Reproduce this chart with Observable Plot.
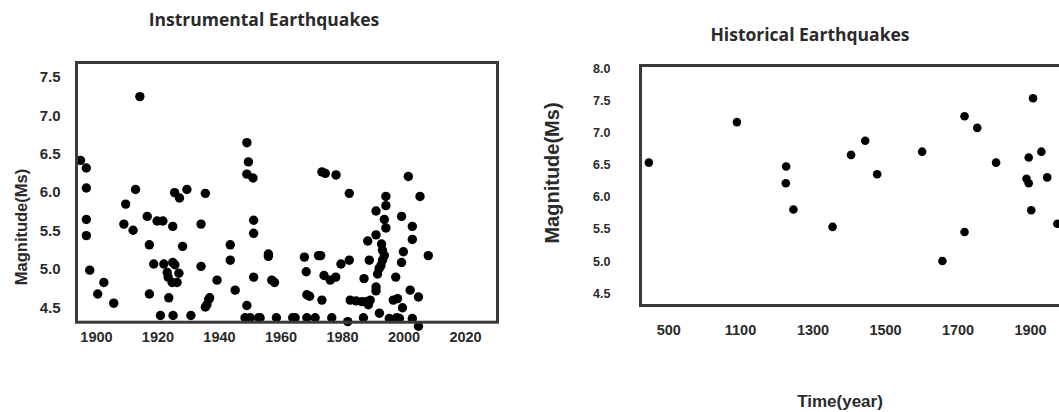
<!DOCTYPE html>
<html>
<head>
<meta charset="utf-8">
<script src="https://cdn.jsdelivr.net/npm/d3@7"></script>
<script src="https://cdn.jsdelivr.net/npm/@observablehq/plot@0.6"></script>
<style>
  html, body { margin: 0; padding: 0; background: #fff; }
  #wrap { position: relative; width: 1059px; height: 412px; overflow: hidden; background: #fff; }
  #wrap svg { position: absolute; top: 0; }
  .lbl { position: absolute; white-space: nowrap; line-height: 1; color: #2a2a2a; font-family: "Liberation Sans", Arial, sans-serif; font-weight: bold; }
  .title { font-family: "Open Sans", "Liberation Sans", sans-serif; font-weight: 700; }
</style>
</head>
<body>
<div id="wrap"></div>
<script>
// ---------- Instrumental earthquakes (year, magnitude Ms) ----------
const instYear = [
  1894.8, 1896.7, 1896.7, 1896.7, 1896.7, 1897.8, 1902.4, 1900.4, 1905.6,
  1914.1, 1912.7, 1909.5, 1908.9, 1911.9, 1916.5, 1919.7, 1921.6, 1924.8,
  1917.2, 1925.4, 1927.0, 1929.4, 1928.0, 1918.6, 1921.9, 1924.8, 1925.5,
  1923.0, 1923.3, 1924.6, 1926.2, 1926.8, 1917.2, 1923.5, 1920.8, 1924.9,
  1930.7, 1935.4, 1934.0, 1934.0, 1935.4, 1935.9, 1936.5, 1936.8, 1939.2,
  1943.5, 1943.5, 1945.1, 1948.9, 1949.4, 1948.9, 1950.9, 1951.1, 1951.1,
  1951.1, 1948.9, 1948.3, 1950.0, 1952.7,
  1955.9, 1955.9, 1957.0, 1957.9, 1953.2, 1958.5, 1963.8, 1964.6, 1968.4,
  1971.1, 1976.5, 1981.7, 1986.8, 1992.0, 1995.2, 1997.6, 1998.5, 2002.7,
  2004.7, 1967.6, 1972.2, 1972.9, 1968.2, 1968.4, 1969.3, 1973.3, 1974.0,
  1976.0, 1977.8, 1979.5, 1982.2, 1973.3, 1974.4, 1977.9, 1982.2, 1982.5,
  1984.4, 1986.3, 1987.7, 1988.4, 1989.0, 1987.0, 1988.7, 1988.2, 1990.9,
  1990.9, 1990.9, 1990.9, 1991.4, 1991.9, 1992.5, 1993.0, 1993.6, 1993.0,
  1992.7, 1993.6, 1994.1, 1994.1, 1994.1, 1996.5, 1997.9, 1997.3, 1999.2,
  1999.8, 1999.2, 2001.4, 2002.7, 2002.7, 2002.0, 2004.7, 1999.5, 2005.2,
  2007.9
];
const instMag = [
  6.42, 6.32, 6.06, 5.65, 5.44, 4.99, 4.83, 4.68, 4.56,
  7.25, 6.04, 5.85, 5.59, 5.51, 5.69, 5.63, 5.63, 5.56,
  5.32, 6.00, 5.93, 6.04, 5.30, 5.07, 5.07, 5.09, 5.06,
  4.96, 4.90, 4.83, 4.83, 4.95, 4.68, 4.63, 4.40, 4.40,
  4.40, 5.99, 5.59, 5.04, 4.51, 4.54, 4.61, 4.63, 4.86,
  5.32, 5.12, 4.73, 6.65, 6.40, 6.24, 6.19, 5.64, 5.47,
  4.90, 4.53, 4.37, 4.37, 4.37,
  5.20, 5.17, 4.86, 4.83, 4.37, 4.37, 4.37, 4.37, 4.37,
  4.37, 4.37, 4.32, 4.37, 4.43, 4.36, 4.37, 4.36, 4.36,
  4.26, 5.16, 5.18, 5.18, 4.97, 4.67, 4.65, 4.60, 4.92,
  4.86, 4.90, 5.07, 5.12, 6.27, 6.25, 6.23, 5.99, 4.60,
  4.59, 4.58, 4.58, 4.54, 4.60, 4.88, 5.12, 5.37, 5.45,
  5.76, 4.77, 4.72, 4.94, 5.01, 5.05, 5.12, 5.18, 5.25,
  5.33, 5.65, 5.54, 5.83, 5.95, 4.60, 4.62, 4.90, 5.09,
  5.23, 5.69, 6.21, 5.56, 5.39, 4.73, 4.64, 4.50, 5.95,
  5.18
];
const instXTicks = [1900, 1920, 1940, 1960, 1980, 2000, 2020];
const instYTicks = [4.5, 5.0, 5.5, 6.0, 6.5, 7.0, 7.5];

// ---------- Historical earthquakes (year, magnitude Ms) ----------
const histYear = [445, 1070, 1226, 1225, 1246, 1354, 1405, 1444, 1477, 1601, 1657,
  1718, 1718, 1753, 1805, 1895, 1907, 1930, 1889, 1895, 1946, 1902, 1974];
const histMag = [6.54, 7.17, 6.48, 6.22, 5.81, 5.54, 6.66, 6.88, 6.36, 6.71, 5.01,
  7.26, 5.46, 7.08, 6.54, 6.62, 7.54, 6.71, 6.29, 6.22, 6.31, 5.80, 5.59];
const histXTicks = [500, 1100, 1300, 1500, 1700, 1900];
const histYTicks = [4.5, 5.0, 5.5, 6.0, 6.5, 7.0, 7.5, 8.0];

const ink = "#2a2a2a";
const fmt = d3.format(".1f");
const wrap = document.getElementById("wrap");

const left = Plot.plot({
  width: 530, height: 412,
  marginLeft: 76, marginRight: 33, marginTop: 62, marginBottom: 90.3,
  style: {fontFamily: "'Liberation Sans', Arial, sans-serif", fontWeight: "bold", color: ink, background: "transparent"},
  x: {type: "linear", domain: [1893.5, 2030.4]},
  y: {type: "linear", domain: [4.3125, 7.694]},
  marks: [
    Plot.axisX({ticks: instXTicks, tickFormat: d => String(d), tickSize: 0, tickPadding: 10, fontSize: 14.5, fill: ink, label: null}),
    Plot.axisY({ticks: instYTicks, tickFormat: fmt, tickSize: 0, tickPadding: 16, fontSize: 15, fill: ink, label: null}),
    Plot.dot({length: instYear.length}, {x: instYear, y: instMag, r: 4.7, fill: "#000", stroke: "none"}),
    Plot.frame({stroke: "#3a3a3a", strokeWidth: 3})
  ]
});
left.style.left = "0px";
wrap.appendChild(left);

const right = Plot.plot({
  width: 570, height: 412,
  marginLeft: 110, marginRight: 15.6, marginTop: 65, marginBottom: 107,
  style: {fontFamily: "'Liberation Sans', Arial, sans-serif", fontWeight: "bold", color: ink, background: "transparent"},
  x: {type: "linear", domain: [422, 500, 1100, 2050], range: [110, 138.3, 210, 554.4]},
  y: {type: "linear", domain: [4.318, 8.05]},
  marks: [
    Plot.axisX({ticks: histXTicks, tickFormat: d => String(d), tickSize: 0, tickPadding: 19, fontSize: 14.5, fill: ink, label: null}),
    Plot.axisY({ticks: histYTicks, tickFormat: fmt, tickSize: 0, tickPadding: 30, fontSize: 12.5, fill: ink, label: null}),
    Plot.dot({length: histYear.length}, {x: histYear, y: histMag, r: 4.3, fill: "#000", stroke: "none"}),
    Plot.frame({stroke: "#3a3a3a", strokeWidth: 3})
  ]
});
right.style.left = "530px";
wrap.appendChild(right);

function addLabel(text, cx, cy, size, rotate, cls) {
  const d = document.createElement("div");
  d.className = "lbl" + (cls ? " " + cls : "");
  d.textContent = text;
  d.style.fontSize = size + "px";
  d.style.left = cx + "px";
  d.style.top = cy + "px";
  d.style.transform = "translate(-50%, -50%)" + (rotate ? " rotate(-90deg)" : "");
  wrap.appendChild(d);
}
addLabel("Instrumental Earthquakes", 264, 20, 17.5, false, "title");
addLabel("Historical Earthquakes", 810, 35, 17.5, false, "title");
addLabel("Magnitude(Ms)", 21, 227, 16.5, true);
addLabel("Magnitude(Ms)", 552, 173, 20, true);
addLabel("Time(year)", 840, 401, 17, false);
</script>
</body>
</html>
